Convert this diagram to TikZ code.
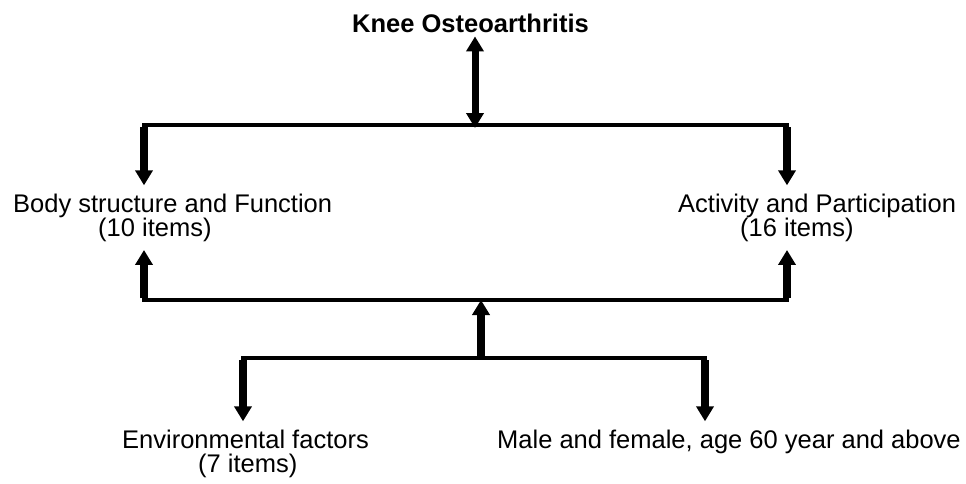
\documentclass[tikz,border=0pt]{standalone}
\usepackage{fontspec}
\setmainfont{Liberation Sans}
\usetikzlibrary{arrows.meta}
\begin{document}
\begin{tikzpicture}[x=1pt,y=-1pt,
  lbl/.style={inner xsep=0pt, inner ysep=8pt, align=left, anchor=base west,
    font=\fontsize{25.5}{24.5}\selectfont},
  bar/.style={line width=4.5pt, line cap=rect},
  arr/.style={line width=7.5pt, -{Triangle[width=17pt,length=15pt]}},
  darr/.style={line width=7pt, {Triangle[width=17pt,length=15pt]}-{Triangle[width=17pt,length=15pt]}}]
\useasboundingbox (0,0) rectangle (966,483);
\node[lbl, font=\fontsize{25.5}{24.5}\selectfont\bfseries, inner ysep=4pt] (ko) at (352,32) {Knee Osteoarthritis};
\node[lbl] (body) at (13,236.5) {Body structure and Function\\\hspace*{85pt}(10 items)};
\node[lbl] (act) at (678,236.5) {Activity and Participation\\\hspace*{62pt}(16 items)};
\node[lbl] (env) at (122,472.5) {Environmental factors\\\hspace*{76pt}(7 items)};
\node[lbl] (male) at (497,448) {Male and female, age 60 year and above};
% junction coordinates
\coordinate (tl) at (144,125);
\coordinate (tc) at (475,125);
\coordinate (tr) at (787,125);
\coordinate (bl) at (144,300);
\coordinate (bc) at (481,300);
\coordinate (br) at (787,300);
\coordinate (ll) at (243,358);
\coordinate (lc) at (481,358);
\coordinate (lr) at (705,358);
% bars
\draw[bar] (tl) -- (tr);
\draw[bar] (bl) -- (br);
\draw[bar] (ll) -- (lr);
% arrows
\draw[darr] (ko.south -| tc) -- ([yshift=-3pt]tc);
\draw[arr] ([yshift=-2pt]tl) -- (tl |- body.north);
\draw[arr] ([yshift=-2pt]tr) -- (tr |- act.north);
\draw[arr] ([yshift=2pt]bl) -- (bl |- body.south);
\draw[arr] ([yshift=2pt]br) -- (br |- act.south);
\draw[arr] (lc) -- (bc);
\draw[arr] ([yshift=-2pt]ll) -- (ll |- env.north);
\draw[arr] ([yshift=-2pt]lr) -- (lr |- male.north);
\end{tikzpicture}
\end{document}
